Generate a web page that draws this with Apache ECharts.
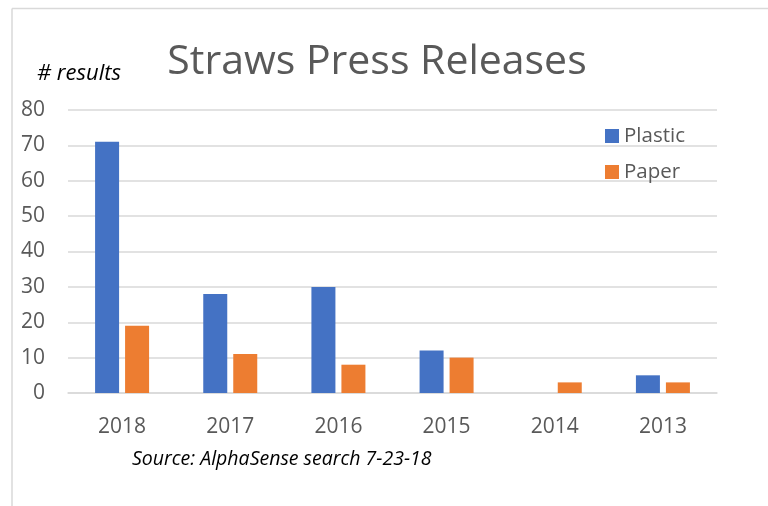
<!DOCTYPE html>
<html><head><meta charset="utf-8">
<script src="https://cdn.jsdelivr.net/npm/echarts@6/dist/echarts.min.js"></script>
<style>html,body{margin:0;padding:0;background:#fff}#c{width:768px;height:506px}</style>
</head><body><div id="c"></div>
<script>
const categories = ['2018','2017','2016','2015','2014','2013'];
const plastic = [71, 28, 30, 12, 0, 5];
const paper = [19, 11, 8, 10, 3, 3];
const yTicks = [0,10,20,30,40,50,60,70,80];
const FONT = 'Open Sans';
const chart = echarts.init(document.getElementById('c'));
chart.setOption({
  animation:false,
  textStyle:{fontFamily:FONT},
  title:{text:'Straws Press Releases', left:372, textAlign:'center', top:37,
    textStyle:{fontFamily:FONT, fontSize:41, fontWeight:'normal', color:'#595959'}},
  legend:{orient:'vertical', left:600, top:120, itemWidth:14, itemHeight:14, itemGap:14,
    icon:'rect', textStyle:{fontSize:20.5, color:'#595959', lineHeight:22}, data:['Plastic','Paper']},
  grid:{left:68, right:51, top:110, bottom:113},
  xAxis:{type:'category', data:categories,
    axisLine:{lineStyle:{color:'#d9d9d9', width:1.5}}, axisTick:{show:false},
    axisLabel:{fontSize:21, color:'#595959', margin:24}},
  yAxis:{type:'value', min:0, max:80, interval:10,
    axisLine:{show:false}, axisTick:{show:false},
    axisLabel:{fontSize:21, color:'#595959', margin:23},
    splitLine:{lineStyle:{color:'#d9d9d9', width:1.5}}},
  series:[
    {name:'Plastic', type:'bar', data:plastic, itemStyle:{color:'#4472C4'}, barWidth:24, barGap:'25%'},
    {name:'Paper', type:'bar', data:paper, itemStyle:{color:'#ED7D31'}, barWidth:24, barGap:'25%'}
  ],
  graphic:[
    {type:'line', shape:{x1:12, y1:8.5, x2:768, y2:8.5}, style:{stroke:'#d9d9d9', lineWidth:1.5}},
    {type:'line', shape:{x1:12, y1:8.5, x2:12, y2:506}, style:{stroke:'#d9d9d9', lineWidth:1.5}},
    {type:'text', left:37, top:63, style:{text:'# results', font:'italic 22px "Open Sans"', fill:'#000'}},
    {type:'text', left:132, top:449, style:{text:'Source: AlphaSense search 7-23-18', font:'italic 19.5px "Open Sans"', fill:'#000'}}
  ]
});
</script></body></html>
